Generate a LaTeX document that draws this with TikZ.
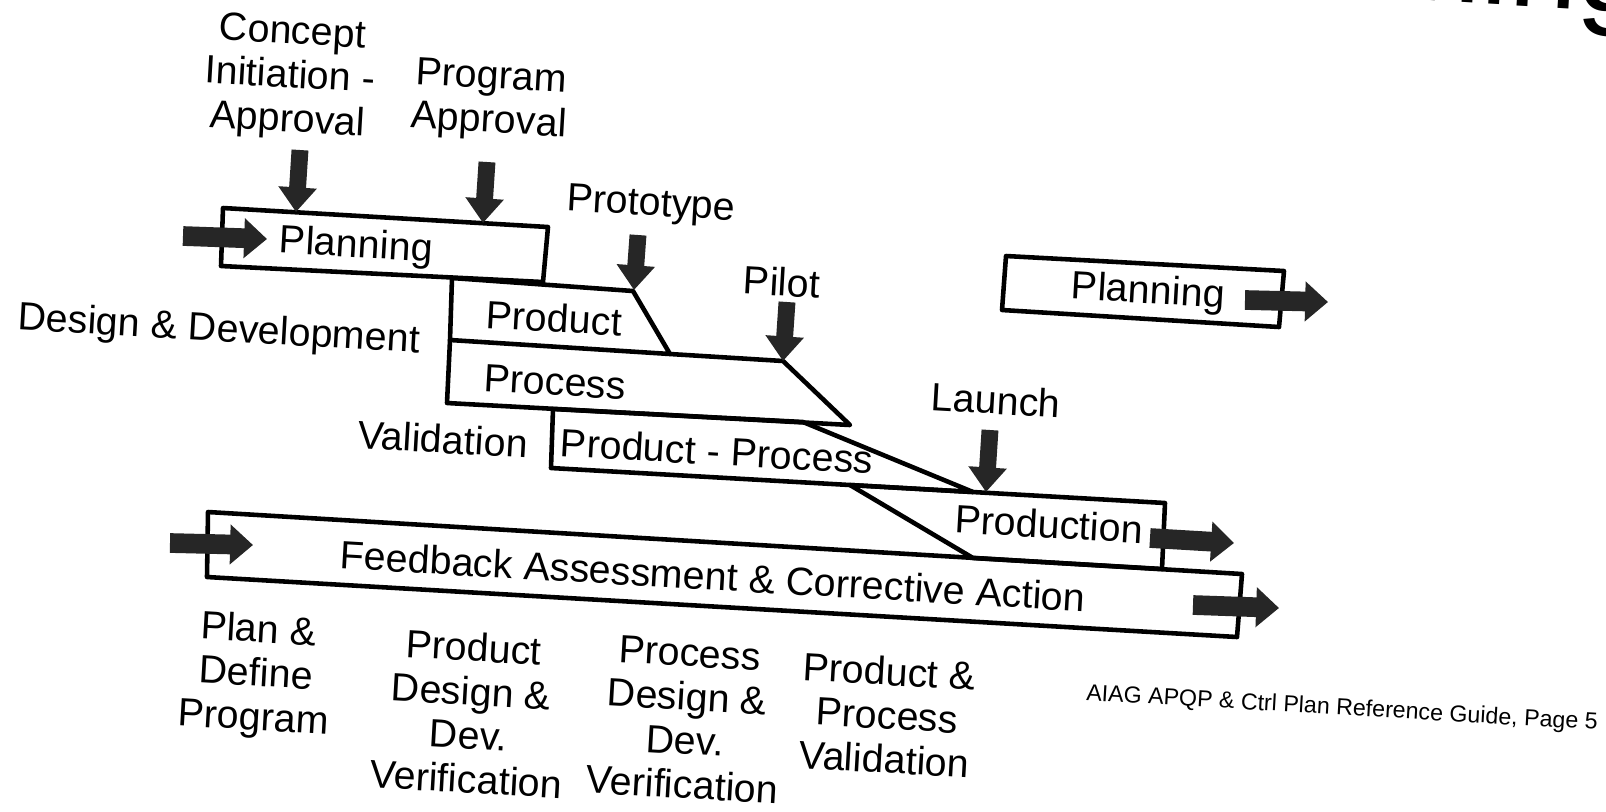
\documentclass[tikz,border=0pt]{standalone}
\usepackage{fontspec}
\setmainfont{Liberation Sans}
\usetikzlibrary{arrows.meta,positioning}
\tikzstyle{phase} = [draw=black, line width=1.3pt, line join=round]
\tikzstyle{lbl}   = [rotate=-3.3, align=center, inner sep=0pt, font=\fontsize{11.2}{12.5}\selectfont]
\tikzstyle{gate}  = [line width=4.8pt, draw=black!85, -{Triangle[width=10.5pt,length=7pt]}]
\tikzstyle{carry} = [line width=5.6pt, draw=black!85, -{Triangle[width=11pt,length=6.5pt]}]

\begin{document}
\begin{tikzpicture}[x=0.01cm, y=-0.01cm]
	\useasboundingbox (0,0) rectangle (1606,811);

	% cut-off slide title
	\begin{scope}
		\clip (0,0) rectangle (1606,811);
		\node[rotate=-3.3, inner sep=0pt, anchor=base west, font=\fontsize{35}{35}\selectfont] (title) at (1280,-8) {Timing};
	\end{scope}

	% corners of the phase bars
	\coordinate (pl1) at (223,208);  \coordinate (pl2) at (548,227);
	\coordinate (pl3) at (543,282);  \coordinate (pl4) at (221,266);
	\coordinate (pd1) at (452,278);  \coordinate (pd2) at (633,291);
	\coordinate (pd3) at (670,354);  \coordinate (pd4) at (450,340);
	\coordinate (pr2) at (783,361);  \coordinate (pr3) at (850,425);
	\coordinate (pr4) at (447,403);
	\coordinate (va1) at (553,409);  \coordinate (va2) at (803,422);
	\coordinate (va3) at (973,492);  \coordinate (va4) at (551,468);
	\coordinate (pn1) at (850,485);  \coordinate (pn2) at (1165,503);
	\coordinate (pn3) at (1162,569); \coordinate (pn4) at (973,558);
	\coordinate (fb1) at (208,512);  \coordinate (fb2) at (1242,574);
	\coordinate (fb3) at (1237,637); \coordinate (fb4) at (207,577);
	\coordinate (nx1) at (1006,256); \coordinate (nx2) at (1284,271);
	\coordinate (nx3) at (1279,327); \coordinate (nx4) at (1002,310);

	\draw[phase] (pl1) -- (pl2) -- (pl3) -- (pl4) -- cycle;
	\draw[phase] (pd1) -- (pd2) -- (pd3) -- (pd4) -- cycle;
	\draw[phase] (pd3) -- (pr2) -- (pr3) -- (pr4) -- (pd4);
	\draw[phase] (va1) -- (va2) -- (va3) -- (va4) -- cycle;
	\draw[phase] (pn4) -- (pn1) -- (pn2) -- (pn3) -- cycle;
	\draw[phase] (fb1) -- (fb2) -- (fb3) -- (fb4) -- cycle;
	\draw[phase] (nx1) -- (nx2) -- (nx3) -- (nx4) -- cycle;

	% texts in the bars
	\node[lbl] (planA)    at (356,247)  {Planning};
	\node[lbl] (product)  at (554,318)  {Product};
	\node[lbl] (process)  at (555,382)  {Process};
	\node[lbl] (prodproc) at (717,451)  {Product - Process};
	\node[lbl] (prodn)    at (1049,524) {Production};
	\node[lbl] (feedback) at (713,576)  {Feedback Assessment \& Corrective Action};
	\node[lbl] (planB)    at (1148,293) {Planning};

	% side labels
	\node[lbl] (devlbl) at (219,331) {Design \& Development};
	\node[lbl] (vallbl) at (443,439) {Validation};

	% milestones
	\node[lbl] (concept)   at (290,78)  {Concept\\Initiation -\\Approval};
	\node[lbl] (progappr)  at (490,101) {Program\\Approval};
	\node[lbl] (prototype) at (651,206) {Prototype};
	\node[lbl] (pilot)     at (782,282) {Pilot};
	\node[lbl] (launch)    at (996,400) {Launch};

	\coordinate (m1) at (300,150); \coordinate (t1) at (296,212);
	\coordinate (m2) at (487,162); \coordinate (t2) at (483,223);
	\coordinate (m3) at (638,235); \coordinate (t3) at (634,290);
	\coordinate (m4) at (787,302); \coordinate (t4) at (783,361);
	\coordinate (m5) at (990,430); \coordinate (t5) at (986,492);
	\foreach \i in {1,...,5}
		\draw[gate] (m\i) -- (t\i);

	% flow arrows
	\coordinate (s1) at (183,236);  \coordinate (e1) at (267,239);
	\coordinate (s2) at (1245,300); \coordinate (e2) at (1328,302);
	\coordinate (s3) at (1150,538); \coordinate (e3) at (1234,543);
	\coordinate (s4) at (170,543);  \coordinate (e4) at (253,545);
	\coordinate (s5) at (1193,605); \coordinate (e5) at (1279,608);
	\foreach \i in {1,...,5}
		\draw[carry] (s\i) -- (e\i);

	% phases along the bottom
	\node[lbl] (ph1) at (256,676) {Plan \&\\Define\\Program};
	\node[lbl] (ph2) at (470,713) {Product\\Design \&\\Dev.\\Verification};
	\node[lbl] (ph3) at (686,719) {Process\\Design \&\\Dev.\\Verification};
	\node[lbl] (ph4) at (887,715) {Product \&\\Process\\Validation};

	\node[lbl, font=\fontsize{6.6}{7}\selectfont] (source) at (1342,709) {AIAG APQP \& Ctrl Plan Reference Guide, Page 5};
\end{tikzpicture}
\end{document}
